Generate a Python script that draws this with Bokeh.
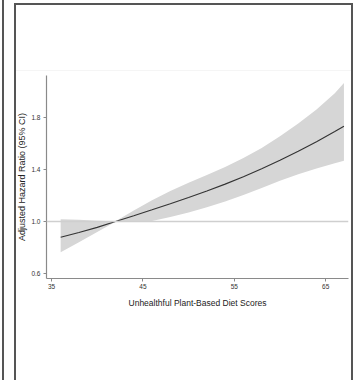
from bokeh.plotting import figure
from bokeh.models import Span, FixedTicker, Range1d, ColumnDataSource, InlineStyleSheet
from bokeh.embed import file_html
from bokeh.resources import INLINE

# ---- data ----
score = [36, 38, 40, 42, 44, 46, 48, 50, 52, 54, 56, 58, 60, 62, 64, 66, 67]
hr = [0.878, 0.915, 0.955, 1.000, 1.045, 1.091, 1.138, 1.186, 1.236, 1.289,
      1.346, 1.407, 1.473, 1.543, 1.617, 1.695, 1.736]
hr_upper = [1.018, 1.013, 1.007, 1.002, 1.085, 1.165, 1.235, 1.300, 1.360, 1.422,
            1.490, 1.568, 1.658, 1.758, 1.866, 1.990, 2.070]
hr_lower = [0.762, 0.840, 0.920, 0.998, 0.999, 1.005, 1.035, 1.070, 1.110, 1.155,
            1.205, 1.260, 1.315, 1.365, 1.410, 1.450, 1.470]
ref_value = 1.0
x_ticks = [35, 45, 55, 65]
x_tick_labels = ["35", "45", "55", "65"]
y_ticks = [0.6, 1.0, 1.4, 1.8]
y_tick_labels = ["0.6", "1.0", "1.4", "1.8"]
x_title = "Unhealthful Plant-Based Diet Scores"
y_title = "Adjusted Hazard Ratio (95% CI)"

src = ColumnDataSource(dict(x=score, y=hr, lo=hr_lower, hi=hr_upper))

FONT = "Liberation Sans"

frame_css = InlineStyleSheet(css="""
:host { position: relative; overflow: visible; }
:host::after { content: ""; position: absolute; left: 14px; top: 3px; width: 339px; height: 420px;
  box-sizing: border-box; border: 2px solid #555555; border-bottom: none;
  background: linear-gradient(to bottom, transparent 65px, #f5f5f5 65px, #f5f5f5 66px, transparent 66px);
  pointer-events: none; z-index: 10; }
:host::before { content: ""; position: absolute; left: 2px; top: 0px; width: 2px; height: 420px;
  background: #555555; pointer-events: none; z-index: 10; }
""")

p = figure(width=360, height=380, output_backend="svg", toolbar_location=None,
           x_range=Range1d(34.45, 67.5), y_range=Range1d(0.56, 2.128),
           min_border_left=46, min_border_right=12, min_border_top=75,
           min_border_bottom=102, stylesheets=[frame_css])
p.outline_line_color = None
p.background_fill_color = "white"
p.border_fill_color = "white"
p.xgrid.visible = False
p.ygrid.visible = False

p.varea(x="x", y1="lo", y2="hi", source=src, fill_color="#d6d6d6", fill_alpha=1.0)
p.add_layout(Span(location=ref_value, dimension="width", line_color="#cfcfcf", line_width=1.5))
p.line(x="x", y="y", source=src, line_color="#333333", line_width=1.1)

for ax in (p.xaxis[0], p.yaxis[0]):
    ax.axis_line_color = "#8a8a8a"
    ax.axis_line_width = 1.2
    ax.major_tick_line_color = "#8a8a8a"
    ax.major_tick_in = 0
    ax.major_tick_out = 3
    ax.minor_tick_line_color = None
    ax.major_label_text_font = FONT
    ax.major_label_text_font_size = "6.5px"
    ax.major_label_text_color = "#333333"
    ax.axis_label_text_font = FONT
    ax.axis_label_text_font_style = "normal"
    ax.axis_label_text_color = "#222222"

p.xaxis[0].ticker = FixedTicker(ticks=x_ticks)
p.xaxis[0].major_label_overrides = dict(zip(x_ticks, x_tick_labels))
p.yaxis[0].ticker = FixedTicker(ticks=y_ticks)
p.yaxis[0].major_label_overrides = dict(zip(y_ticks, y_tick_labels))
p.xaxis[0].axis_label = x_title
p.yaxis[0].axis_label = y_title
p.xaxis[0].axis_label_text_font_size = "8.5px"
p.yaxis[0].axis_label_text_font_size = "9px"
p.xaxis[0].major_label_standoff = 2
p.yaxis[0].major_label_standoff = 3
p.xaxis[0].axis_label_standoff = 6
p.yaxis[0].axis_label_standoff = 1

open("out.html", "w").write(file_html(p, INLINE))
